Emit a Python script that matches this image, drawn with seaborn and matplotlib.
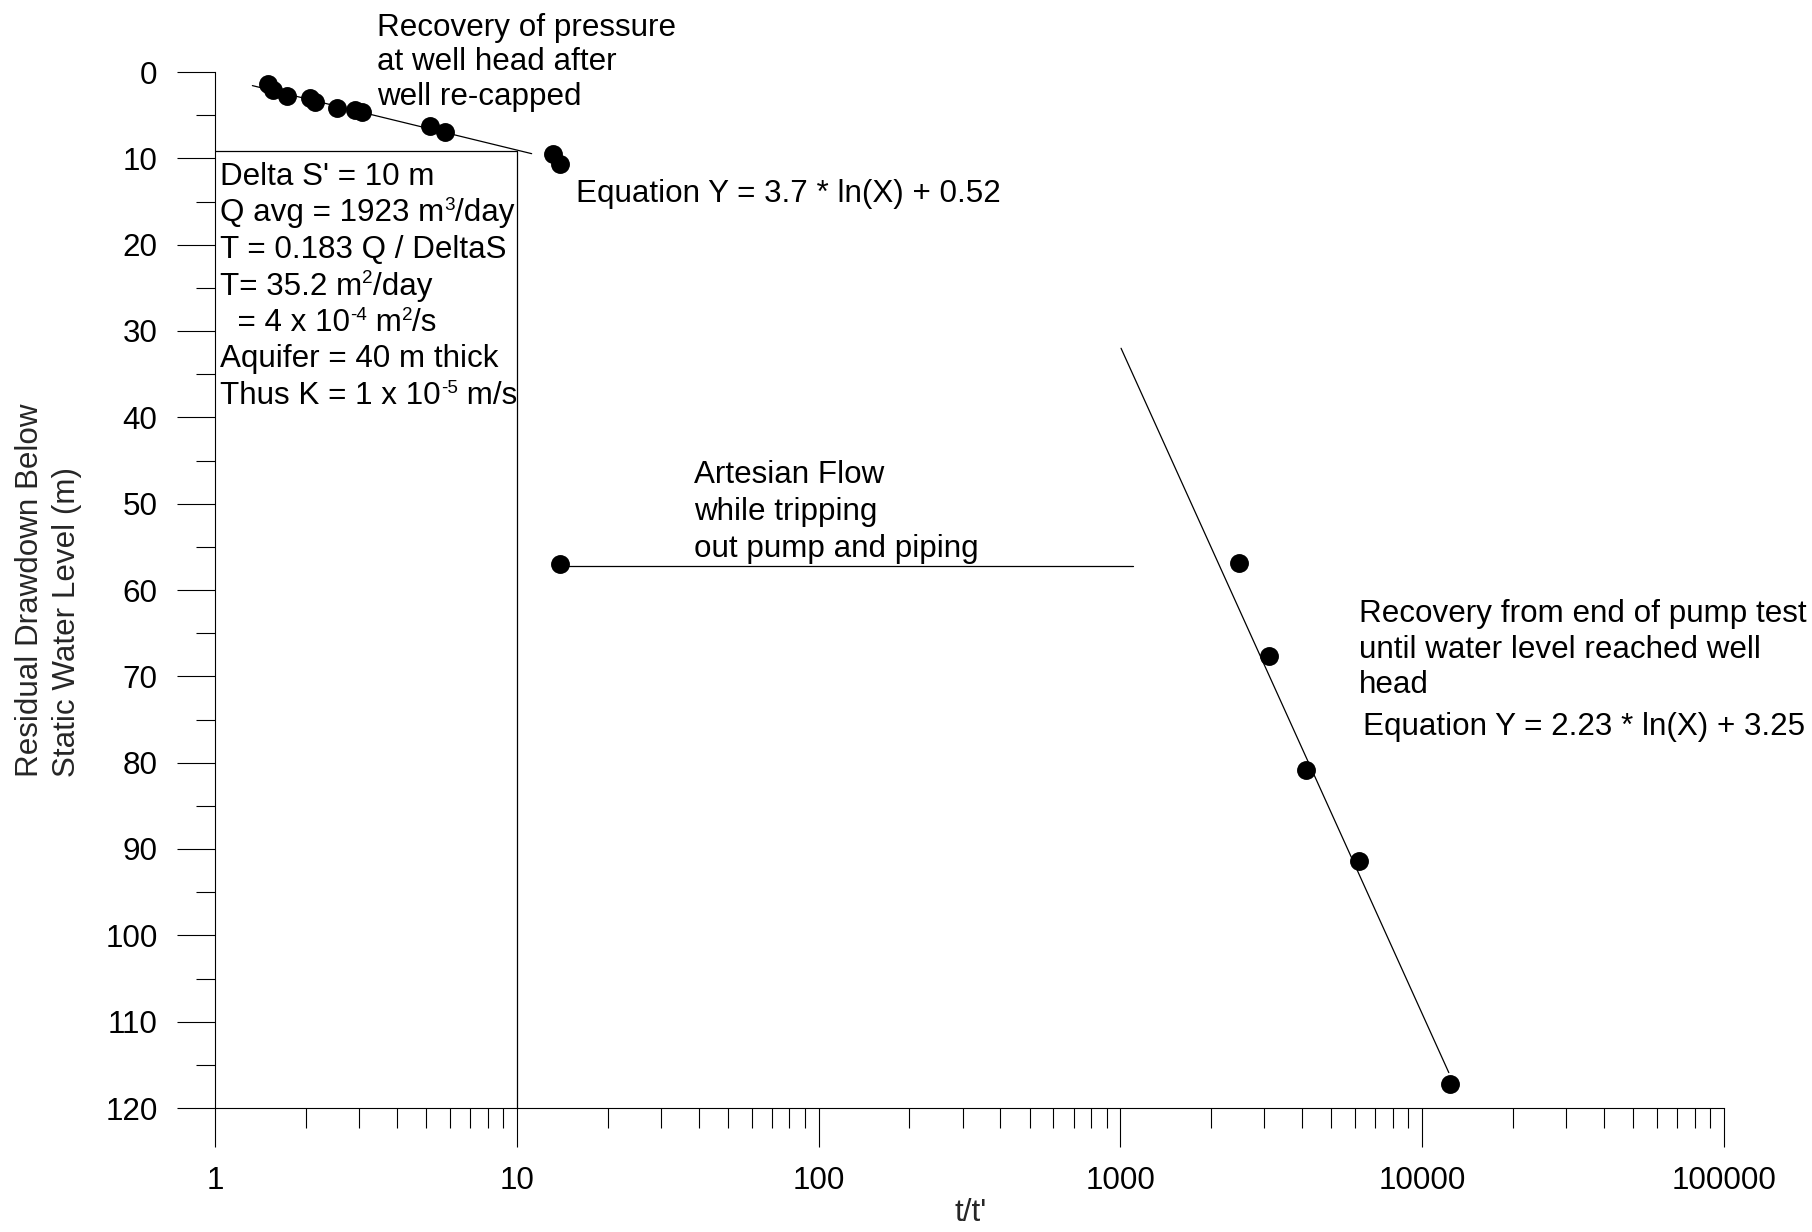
import matplotlib
matplotlib.use("Agg")
import matplotlib.pyplot as plt
from matplotlib.ticker import LogLocator, MultipleLocator, NullFormatter
import numpy as np
import seaborn as sns

# Recovery of pressure at the well head after re-capping
recap_ratio = [1.50, 1.56, 1.73, 2.06, 2.14, 2.53, 2.90, 3.06, 5.14, 5.77, 13.2, 13.9]
recap_drawdown = [1.4, 2.1, 2.8, 3.0, 3.5, 4.2, 4.4, 4.6, 6.3, 7.0, 9.5, 10.6]
recap_fit_slope = 3.7
recap_fit_intercept = 0.52
recap_fit_range = [1.33, 11.2]

# Artesian flow while tripping out pump and piping
artesian_ratio = [13.9]
artesian_drawdown = [57.0]
artesian_line_ratio = [13.9, 1100]
artesian_line_drawdown = [57.2, 57.2]

# Recovery from end of pump test
pump_ratio = [2470, 3110, 4135, 6190, 12370]
pump_drawdown = [56.9, 67.6, 80.8, 91.4, 117.2]
pump_line_ratio = [1005, 12250]
pump_line_drawdown = [32.0, 115.9]

# Outline around the calculation notes
box_ratio = [1, 10, 10]
box_drawdown = [9.2, 9.2, 120]

x_ticks = [1, 10, 100, 1000, 10000, 100000]
x_tick_labels = ["1", "10", "100", "1000", "10000", "100000"]
y_ticks = list(range(0, 121, 10))
y_tick_labels = [str(v) for v in y_ticks]

sns.set_style("white")
plt.rcParams["font.family"] = ["Liberation Sans", "DejaVu Sans"]

W, H = 1812, 1232
FS = 22.6
fig = plt.figure(figsize=(W / 100, H / 100), dpi=100)
fig.patch.set_facecolor("white")
ax = fig.add_axes([215 / W, 1 - 1108 / H, (1724 - 215) / W, (1108 - 72) / H])
ax.set_facecolor("white")
ax.set_xscale("log")

line_kw = dict(color="black", linewidth=0.9, sort=False, estimator=None, ax=ax, legend=False)

# fitted line for the re-capped recovery
fit_x = np.array(recap_fit_range)
fit_y = recap_fit_slope * np.log(fit_x) + recap_fit_intercept
sns.lineplot(x=fit_x, y=fit_y, **line_kw)
sns.lineplot(x=artesian_line_ratio, y=artesian_line_drawdown, **line_kw)
sns.lineplot(x=pump_line_ratio, y=pump_line_drawdown, **line_kw)
sns.lineplot(x=box_ratio, y=box_drawdown, **line_kw)

pt_kw = dict(color="black", s=185, linewidth=0, ax=ax, zorder=3, legend=False)
sns.scatterplot(x=recap_ratio, y=recap_drawdown, **pt_kw)
sns.scatterplot(x=artesian_ratio, y=artesian_drawdown, **pt_kw)
sns.scatterplot(x=pump_ratio, y=pump_drawdown, **pt_kw)

ax.set_xlim(1, 1e5)
ax.set_ylim(120, 0)
ax.set_xticks(x_ticks, x_tick_labels)
ax.xaxis.set_minor_locator(LogLocator(base=10, subs=np.arange(2, 10)))
ax.xaxis.set_minor_formatter(NullFormatter())
ax.set_yticks(y_ticks, y_tick_labels)
ax.yaxis.set_minor_locator(MultipleLocator(5))
ax.set_xlabel("")
ax.set_ylabel("")
ax.grid(False)

for side in ("top", "right"):
    ax.spines[side].set_visible(False)
for side in ("left", "bottom"):
    ax.spines[side].set_color("black")
    ax.spines[side].set_linewidth(0.8)

ax.tick_params(axis="both", which="both", direction="out", color="black",
               width=0.8, labelsize=FS, labelcolor="black",
               bottom=True, left=True, top=False, right=False)
ax.tick_params(axis="y", which="major", length=27.4, pad=14)
ax.tick_params(axis="y", which="minor", length=13.7)
ax.tick_params(axis="x", which="major", length=28, pad=14)
ax.tick_params(axis="x", which="minor", length=14.4)

renderer = fig.canvas.get_renderer()


def put(x, y, s, **kw):
    return fig.text(x / W, 1 - y / H, s, fontsize=FS, ha="left", va="baseline",
                    color="black", **kw)


def put_rich(x, y, parts):
    """Write a line made of normal and superscript pieces, one after another."""
    cx = x
    for s, sup in parts:
        if sup:
            t = fig.text(cx / W, 1 - (y - 0.36 * FS * 100 / 72) / H, s,
                         fontsize=FS * 0.6, ha="left", va="baseline", color="black")
        else:
            t = put(cx, y, s)
        cx = t.get_window_extent(renderer).x1


# annotations
for yy, s in zip([36, 70.5, 105], ["Recovery of pressure", "at well head after", "well re-capped"]):
    put(377, yy, s)
put(576, 202, "Equation Y = 3.7 * ln(X) + 0.52")

notes = [
    [("Delta S' = 10 m", False)],
    [("Q avg = 1923 m", False), ("3", True), ("/day", False)],
    [("T = 0.183 Q / DeltaS", False)],
    [("T= 35.2 m", False), ("2", True), ("/day", False)],
    [("  = 4 x 10", False), ("-4", True), (" m", False), ("2", True), ("/s", False)],
    [("Aquifer = 40 m thick", False)],
    [("Thus K = 1 x 10", False), ("-5", True), (" m/s", False)],
]
for i, parts in enumerate(notes):
    put_rich(220, 185 + 36.5 * i, parts)

for yy, s in zip([483, 520, 557], ["Artesian Flow", "while tripping", "out pump and piping"]):
    put(694, yy, s)

for yy, s in zip([622, 657.5, 693], ["Recovery from end of pump test",
                                     "until water level reached well", "head"]):
    put(1359, yy, s)
put(1363, 735, "Equation Y = 2.23 * ln(X) + 3.25")

# axis titles
fig.text(971 / W, 1 - 1213 / H, "t/t'", fontsize=FS, ha="center", va="center")
fig.text(30 / W, 1 - 777 / H, "Residual Drawdown Below", fontsize=FS,
         rotation=90, ha="center", va="bottom")
fig.text(67 / W, 1 - 777 / H, "Static Water Level (m)", fontsize=FS,
         rotation=90, ha="center", va="bottom")

fig.savefig("out.png", dpi=100, facecolor="white")
